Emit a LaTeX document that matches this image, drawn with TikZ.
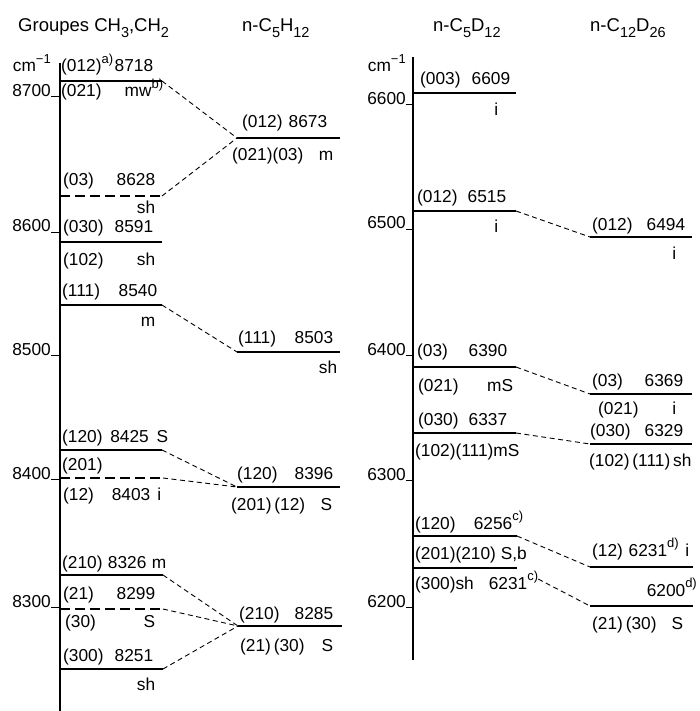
\documentclass[tikz,border=0pt]{standalone}
\usepackage{fontspec}
\setmainfont{Liberation Sans}
\newcommand{\supr}[1]{\raisebox{0.5em}{\fontsize{13}{14}\selectfont #1}}
\newcommand{\subr}[1]{\raisebox{-0.3em}{\fontsize{14.5}{15}\selectfont #1}}

\begin{document}
\begin{tikzpicture}[x=1pt, y=-1pt, font=\fontsize{17.3}{20}\selectfont,
  lvl/.style={line width=1.8pt},
  lvldash/.style={line width=1.8pt, dash pattern=on 10pt off 5pt},
  link/.style={line width=0.9pt, dash pattern=on 5pt off 3.5pt},
  axis/.style={line width=1.5pt},
  tick/.style={line width=1pt},
  lab/.style={anchor=base west, inner sep=0pt, text width=#1},
  txt/.style={anchor=base west, inner sep=0pt},
  num/.style={anchor=base east, inner sep=0pt},
  head/.style={anchor=base west, inner sep=0pt, font=\fontsize{18.5}{22}\selectfont}]

\useasboundingbox (0,0) rectangle (699,711);

% columns: a = groupes (60-162), b = n-C5H12 (237-340), c = n-C5D12 (413-516), d = n-C12D26 (590-692)

%% ── headers ──────────────────────────────────────────────────────
\node[head] (hA) at (18,32)  {Groupes CH\subr{3},CH\subr{2}};
\node[head] (hB) at (242,32) {n-C\subr{5}H\subr{12}};
\node[head] (hC) at (433,32) {n-C\subr{5}D\subr{12}};
\node[head] (hD) at (590,32) {n-C\subr{12}D\subr{26}};

%% ── axes and ticks ───────────────────────────────────────────────
\draw[axis] (60,63) -- (60,711);
\draw[axis] (413,57) -- (413,660);
\node[num] (uA) at (51,72)  {cm\supr{−1}};
\node[num] (uC) at (406,72) {cm\supr{−1}};
\foreach \v/\y in {8700/97, 8600/232, 8500/355, 8400/479, 8300/607}{
  \node[num] (k\v) at (51,\y) {\v};
  \draw[tick] (51,\y) -- (60,\y);
}
\foreach \v/\y in {6600/105, 6500/229, 6400/355, 6300/480, 6200/607}{
  \node[num] (k\v) at (406,\y) {\v};
  \draw[tick] (406,\y) -- (413,\y);
}

%% ── levels: CH3, CH2 groups ──────────────────────────────────────
\draw[lvl] (60,81) coordinate (a8718w) -- (162,81) coordinate (a8718e);
\node[lab=92pt]  (t8718a) at (61,72) {(012)\supr{a)}\hfill 8718};
\node[lab=102pt] (t8718b) at (61,97) {(021)\hfill mw\supr{b)}};

\draw[lvldash] (60,196) coordinate (a8628w) -- (162,196) coordinate (a8628e);
\node[lab=92pt] (t8628a) at (63,186) {(03)\hfill 8628};
\node[lab=92pt] (t8628b) at (63,214) {\hfill sh};

\draw[lvl] (60,242) coordinate (a8591w) -- (162,242) coordinate (a8591e);
\node[lab=90pt] (t8591a) at (63,233) {(030)\hfill 8591};
\node[lab=92pt] (t8591b) at (63,265) {(102)\hfill sh};

\draw[lvl] (60,305) coordinate (a8540w) -- (162,305) coordinate (a8540e);
\node[lab=95pt] (t8540a) at (62,296) {(111)\hfill 8540};
\node[lab=93pt] (t8540b) at (62,326) {\hfill m};

\draw[lvl] (60,450) coordinate (a8425w) -- (162,450) coordinate (a8425e);
\node[lab=106pt] (t8425a) at (62,442) {(120)\hfill 8425\hfill S};
\node[txt] (t8425b) at (62,470) {(201)};

\draw[lvldash] (60,478) coordinate (a8403w) -- (163,478) coordinate (a8403e);
\node[lab=98pt] (t8403b) at (63,500) {(12)\hfill 8403\hspace{7pt}i};

\draw[lvl] (60,575) coordinate (a8326w) -- (163,575) coordinate (a8326e);
\node[lab=104pt] (t8326a) at (62,568) {(210)\hfill 8326\hfill m};

\draw[lvldash] (60,609) coordinate (a8299w) -- (163,609) coordinate (a8299e);
\node[lab=92pt] (t8299a) at (63,599) {(21)\hfill 8299};
\node[lab=90pt] (t8299b) at (65,627) {(30)\hfill S};

\draw[lvl] (60,669) coordinate (a8251w) -- (163,669) coordinate (a8251e);
\node[lab=90pt] (t8251a) at (63,661) {(300)\hfill 8251};
\node[lab=92pt] (t8251b) at (63,690) {\hfill sh};

%% ── levels: n-C5H12 ──────────────────────────────────────────────
\draw[lvl] (237,138) coordinate (b8673w) -- (340,138) coordinate (b8673e);
\node[lab=85pt]  (t8673a) at (242,128) {(012)\hfill 8673};
\node[lab=101pt] (t8673b) at (232,161) {(021)(03)\hfill m};

\draw[lvl] (237,352) coordinate (b8503w) -- (340,352) coordinate (b8503e);
\node[lab=95pt] (t8503a) at (238,343) {(111)\hfill 8503};
\node[lab=99pt] (t8503b) at (238,373) {\hfill sh};

\draw[lvl] (237,487) coordinate (b8396w) -- (340,487) coordinate (b8396e);
\node[lab=96pt]  (t8396a) at (237,479) {(120)\hfill 8396};
\node[lab=101pt] (t8396b) at (231,510) {(201)\,(12)\hfill S};

\draw[lvl] (238,626) coordinate (b8285w) -- (342,626) coordinate (b8285e);
\node[lab=94pt] (t8285a) at (239,619) {(210)\hfill 8285};
\node[lab=93pt] (t8285b) at (240,651) {(21)\,(30)\hfill S};

%% ── levels: n-C5D12 ──────────────────────────────────────────────
\draw[lvl] (413,93) coordinate (c6609w) -- (516,93) coordinate (c6609e);
\node[lab=90pt] (t6609a) at (420,85) {(003)\hfill 6609};
\node[lab=81pt] (t6609b) at (417,116) {\hfill i};

\draw[lvl] (413,211) coordinate (c6515w) -- (516,211) coordinate (c6515e);
\node[lab=89pt] (t6515a) at (417,203) {(012)\hfill 6515};
\node[lab=81pt] (t6515b) at (417,233) {\hfill i};

\draw[lvl] (413,367) coordinate (c6390w) -- (516,367) coordinate (c6390e);
\node[lab=90pt] (t6390a) at (417,356) {(03)\hfill 6390};
\node[lab=95pt] (t6390b) at (418,391) {(021)\hfill mS};

\draw[lvl] (413,433) coordinate (c6337w) -- (516,433) coordinate (c6337e);
\node[lab=89pt] (t6337a) at (418,425) {(030)\hfill 6337};
\node[txt] (t6337b) at (415,456) {(102)(111)mS};

\draw[lvl] (413,536) coordinate (c6256w) -- (517,536) coordinate (c6256e);
\node[lab=108pt] (t6256a) at (415,529) {(120)\hfill 6256\supr{c)}};
\node[txt] (t6256b) at (415,559) {(201)(210) S,b};

\draw[lvl] (413,568) coordinate (c6231w) -- (517,568) coordinate (c6231e);
\node[lab=123pt] (t6231b) at (415,589) {(300)sh\hfill 6231\supr{c)}};

%% ── levels: n-C12D26 ─────────────────────────────────────────────
\draw[lvl] (590,237) coordinate (d6494w) -- (692,237) coordinate (d6494e);
\node[lab=93pt] (t6494a) at (592,230) {(012)\hfill 6494};
\node[lab=84pt] (t6494b) at (592,259) {\hfill i};

\draw[lvl] (590,394) coordinate (d6369w) -- (692,394) coordinate (d6369e);
\node[lab=91pt] (t6369a) at (592,386) {(03)\hfill 6369};
\node[lab=78pt] (t6369b) at (598,414) {(021)\hfill i};

\draw[lvl] (590,444) coordinate (d6329w) -- (692,444) coordinate (d6329e);
\node[lab=93pt] (t6329a) at (590,436) {(030)\hfill 6329};
\node[txt] (t6329b) at (589,466) {(102)\,(111)\,sh};

\draw[lvl] (590,567) coordinate (d6231w) -- (693,567) coordinate (d6231e);
\node[lab=97pt] (t6231a) at (592,556) {(12)\ 6231\supr{d)}\hfill i};

\draw[lvl] (590,606) coordinate (d6200w) -- (693,606) coordinate (d6200e);
\node[num] (t6200a) at (697,596) {6200\supr{d)}};
\node[lab=91pt] (t6200b) at (592,629) {(21)\,(30)\hfill S};

%% ── correlation links ────────────────────────────────────────────
\draw[link] (a8718e) -- (b8673w);
\draw[link] (a8628e) -- (b8673w);
\draw[link] (a8540e) -- (b8503w);
\draw[link] (a8425e) -- (b8396w);
\draw[link] (a8403e) -- (b8396w);
\draw[link] (a8326e) -- (b8285w);
\draw[link] (a8299e) -- (b8285w);
\draw[link] (a8251e) -- (b8285w);
\draw[link] (c6515e) -- (d6494w);
\draw[link] (c6390e) -- (d6369w);
\draw[link] (c6337e) -- (d6329w);
\draw[link] (c6256e) -- (d6231w);
\draw[link, shorten <=24pt] (c6231e) -- (d6200w);

\end{tikzpicture}
\end{document}
